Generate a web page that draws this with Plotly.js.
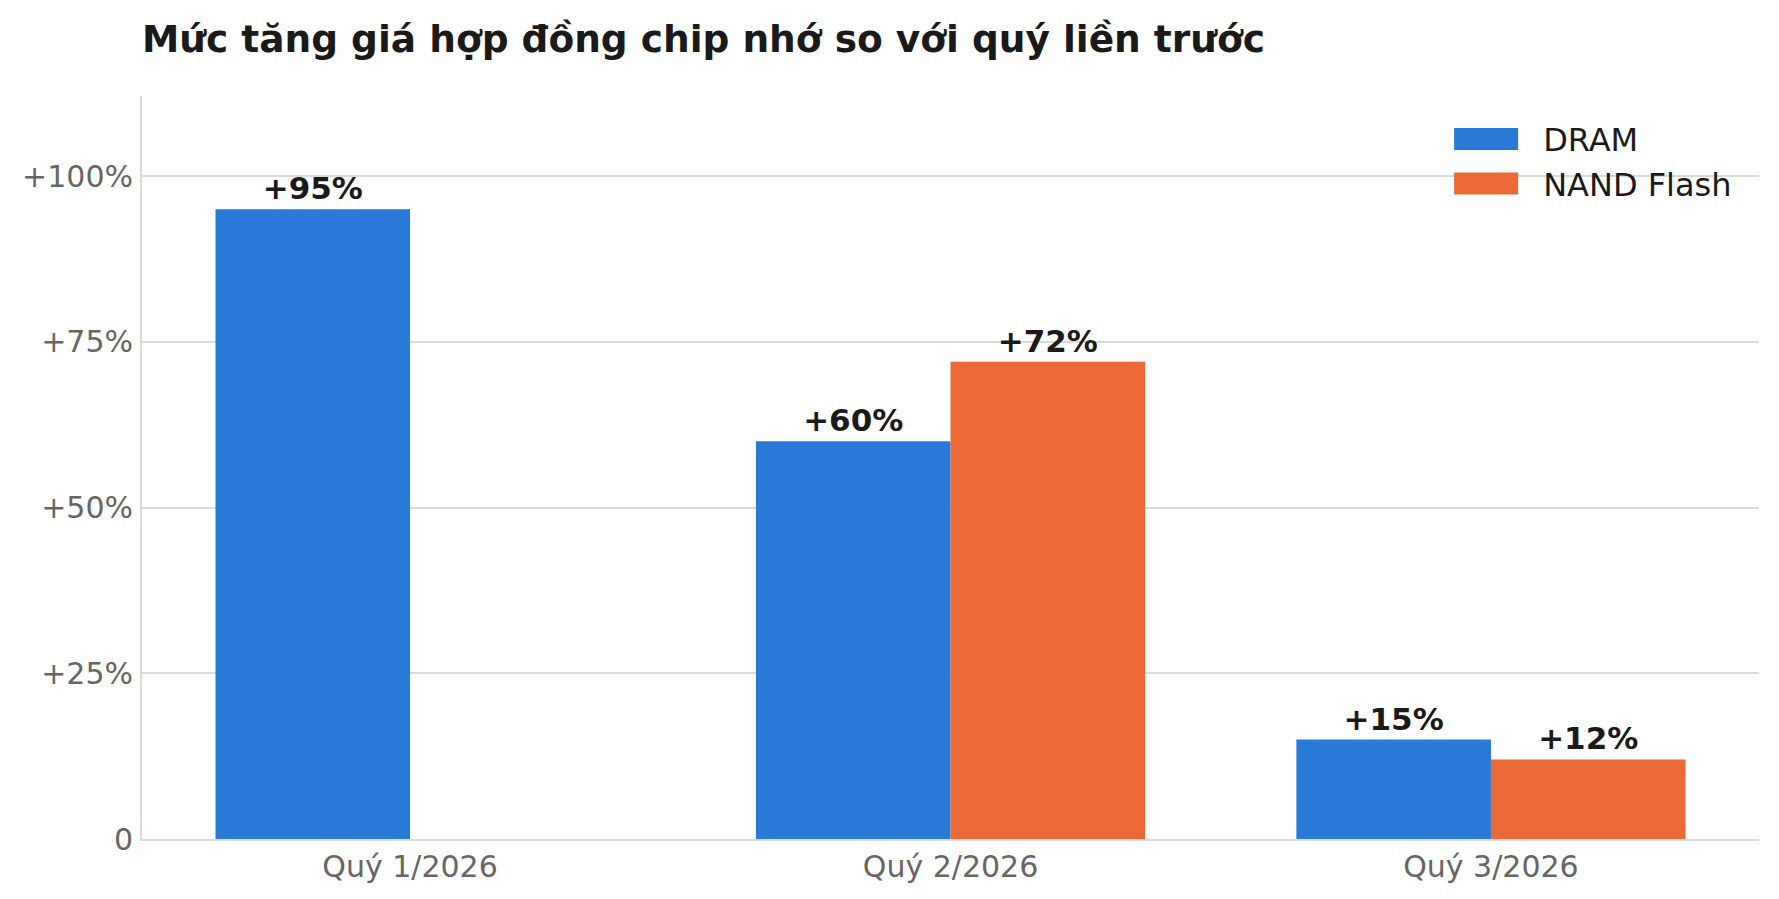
<!DOCTYPE html>
<html>
<head>
<meta charset="utf-8">
<script src="https://cdn.plot.ly/plotly-3.0.1.min.js"></script>
<style>
  html, body { margin: 0; padding: 0; background: #ffffff; }
  #chart { width: 1779px; height: 899px; }
</style>
</head>
<body>
<div id="chart"></div>
<script>
// Dữ liệu: mức tăng giá hợp đồng (%) so với quý liền trước
var quy = ["Quý 1/2026", "Quý 2/2026", "Quý 3/2026"];
var dram = [95, 60, 15];
var nand = [null, 72, 12]; // chưa có số liệu NAND cho quý 1

var yTickVals = [0, 25, 50, 75, 100];
var yTickText = ["0", "+25%", "+50%", "+75%", "+100%"];

var FONT = "DejaVu Sans, sans-serif";

var traceDram = {
    x: quy,
    y: dram,
    name: "DRAM",
    type: "bar",
    legendgroup: "dram",
    marker: { color: "#2979D6" },
    texttemplate: "+%{y}%",
    textposition: "outside",
    cliponaxis: false,
    textfont: { family: FONT, size: 31, color: "#1a1a1a", weight: "bold" },
    hoverinfo: "skip"
};

var traceNand = {
    x: quy,
    y: nand,
    name: "NAND Flash",
    type: "bar",
    legendgroup: "nand",
    marker: { color: "#EB6936" },
    texttemplate: "+%{y}%",
    textposition: "outside",
    cliponaxis: false,
    textfont: { family: FONT, size: 31, color: "#1a1a1a", weight: "bold" },
    hoverinfo: "skip"
};

var layout = {
    width: 1779,
    height: 899,
    paper_bgcolor: "#ffffff",
    plot_bgcolor: "#ffffff",
    margin: { l: 142, r: 20, t: 96, b: 60 },
    font: { family: FONT, color: "#1a1a1a" },
    title: {
        text: "<b>Mức tăng giá hợp đồng chip nhớ so với quý liền trước</b>",
        font: { family: FONT, size: 37.5, color: "#1a1a1a" },
        xref: "paper",
        x: 0,
        xanchor: "left",
        yref: "container",
        y: 0.942,
        yanchor: "bottom"
    },
    barmode: "group",
    bargap: 0.28,
    bargroupgap: 0,
    xaxis: {
        type: "category",
        range: [-0.496, 2.496],
        showgrid: false,
        zeroline: false,
        showline: true,
        linecolor: "#dcdcd6",
        linewidth: 2,
        ticks: "",
        ticklabelstandoff: 0,
        tickfont: { family: FONT, size: 30, color: "#666666" }
    },
    yaxis: {
        range: [0, 112.1],
        tickvals: yTickVals,
        ticktext: yTickText,
        showgrid: true,
        gridcolor: "#dcdcd6",
        gridwidth: 2,
        zeroline: false,
        showline: true,
        linecolor: "#dcdcd6",
        linewidth: 2,
        ticks: "",
        ticklabelstandoff: 1,
        tickfont: { family: FONT, size: 30, color: "#666666" }
    },
    showlegend: true,
    legend: {
        x: 0.796,
        xanchor: "left",
        y: 0.979,
        yanchor: "top",
        traceorder: "grouped",
        tracegroupgap: 0,
        itemwidth: 104,
        bgcolor: "rgba(0,0,0,0)",
        font: { family: FONT, size: 32, color: "#1a1a1a" }
    }
};

var config = { displayModeBar: false, staticPlot: true };

Plotly.newPlot("chart", [traceDram, traceNand], layout, config).then(function () {
    // ô màu chú giải dạng chữ nhật rộng
    document.querySelectorAll("#chart g.legendpoints path").forEach(function (p) {
        p.setAttribute("d", "M-32,11H32V-11H-32Z");
    });
});
</script>
</body>
</html>
